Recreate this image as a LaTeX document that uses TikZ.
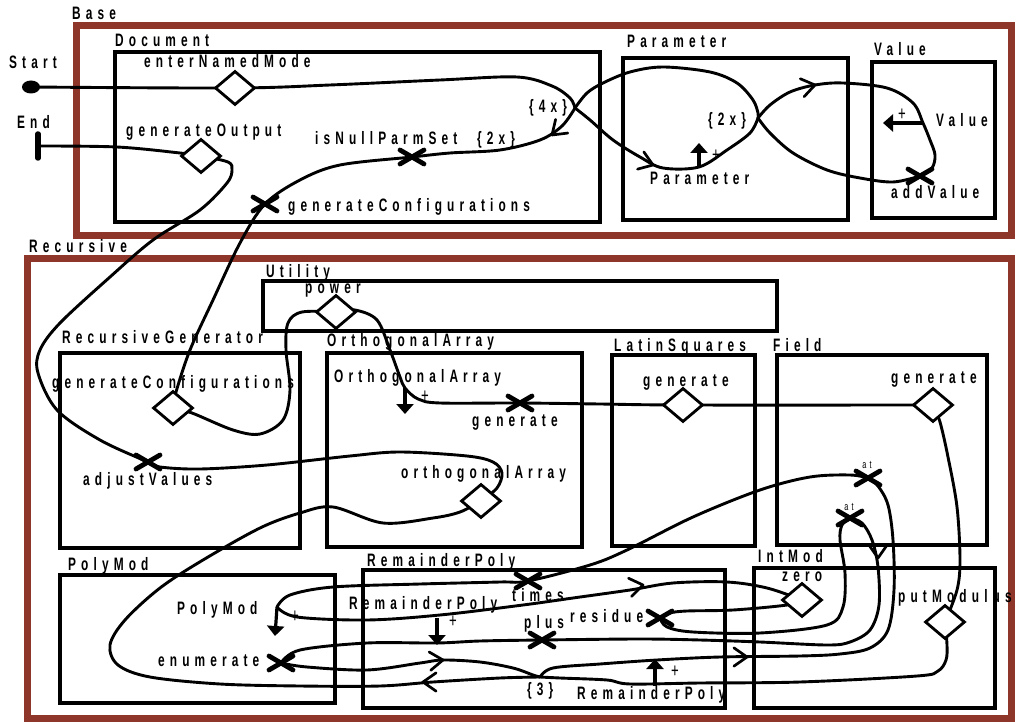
\documentclass[tikz,border=0pt]{standalone}
\usepackage{fontspec}
\setmainfont{Liberation Sans}[FakeStretch=0.66,LetterSpace=28.5]
\usetikzlibrary{arrows.meta,shapes.geometric}
\definecolor{framered}{RGB}{142,54,42}

\tikzset{
  layer/.style={draw=framered, line width=7pt},
  comp/.style={draw, line width=3.4pt},
  lbl/.style={font=\fontsize{18}{20}\selectfont\bfseries, inner sep=0pt, anchor=base west},
  tinylbl/.style={font=\fontsize{11}{12}\selectfont, inner sep=0pt},
  pluslbl/.style={font=\fontsize{20}{20}\selectfont, inner sep=0pt},
  stubd/.style={diamond, draw, fill=white, line width=2.8pt, minimum width=40pt, minimum height=34pt, inner sep=0pt},
  ucm/.style={line width=2.9pt, line cap=round, line join=round},
  respline/.style={line width=4.8pt, line cap=round},
  headline/.style={line width=2.7pt, line cap=round, line join=round},
  mkarrow/.style={line width=3.2pt, -{Triangle[length=10pt,width=17pt]}},
}
\newcommand{\respmark}[1]{\draw[respline] (#1) +(-12,-7) -- +(12,7) (#1) +(-12,7) -- +(12,-7);}
\newcommand{\vhead}[2]{\draw[headline] (#1) ++(#2+145:16pt) -- (#1) -- ++(#2-145:16pt);}

\begin{document}
\begin{tikzpicture}[x=1pt,y=-1pt]
\useasboundingbox (0,0) rectangle (1020,722);
% layers
\draw[layer] (76,26) rectangle (1011,236);
\draw[layer] (27,258) rectangle (1011,718);
\node[lbl] (baseL) at (72,20) {Base};
\node[lbl] (recL) at (29,252) {Recursive};
% components
\draw[comp] (115,52) rectangle (600,222);
\node[lbl] (docL) at (115,47) {Document};
\draw[comp] (623,58) rectangle (848,220);
\node[lbl] (parL) at (627,48) {Parameter};
\draw[comp] (872,62) rectangle (995,218);
\node[lbl] (valL) at (874,56) {Value};
\draw[comp] (263,281) rectangle (777,331);
\node[lbl] (utilL) at (266,277) {Utility};
\draw[comp] (60,353) rectangle (300,548);
\node[lbl] (rgL) at (62,343) {RecursiveGenerator};
\draw[comp] (327,353) rectangle (582,547);
\node[lbl] (oaL) at (327,346) {OrthogonalArray};
\draw[comp] (612,355) rectangle (755,546);
\node[lbl] (lsL) at (614,351) {LatinSquares};
\draw[comp] (777,355) rectangle (987,545);
\node[lbl] (fieldL) at (773,351) {Field};
\draw[comp] (60,575) rectangle (335,703);
\node[lbl] (pmL) at (68,570) {PolyMod};
\draw[comp] (363,570) rectangle (725,708);
\node[lbl] (rpL) at (367,566) {RemainderPoly};
\draw[comp] (754,568) rectangle (995,708);
\node[lbl] (imL) at (758,562) {IntMod};

% points on the paths
\coordinate (start) at (31,87);
\coordinate (endpt) at (38,146);
\coordinate (enter) at (235,88);
\coordinate (genOut) at (201,156);
\coordinate (fork4) at (575,108);
\coordinate (isNull) at (412,157);
\coordinate (genConf) at (265,204);
\coordinate (fork2) at (758,118);
\coordinate (paramNew) at (699,167);
\coordinate (valueNew) at (923,123);
\coordinate (addVal) at (920,176);
\coordinate (rgGen) at (173,408);
\coordinate (power) at (336,312);
\coordinate (oaNew) at (405,388);
\coordinate (oaGen) at (520,403);
\coordinate (oaArr) at (481,501);
\coordinate (adjust) at (148,462);
\coordinate (lsGen) at (683,405);
\coordinate (fieldGen) at (933,405);
\coordinate (atA) at (868,478);
\coordinate (atB) at (850,518);
\coordinate (pmNew) at (277,607);
\coordinate (enumX) at (281,663);
\coordinate (rpNewA) at (437,618);
\coordinate (rpNewB) at (655,686);
\coordinate (timesX) at (528,581);
\coordinate (plusX) at (542,640);
\coordinate (residueX) at (660,618);
\coordinate (fork3) at (540,677);
\coordinate (zero) at (802,600);
\coordinate (putMod) at (945,622);

% paths
\draw[ucm] plot[smooth,tension=0.55] coordinates {(start) (enter) (330,85) (440,80) (517,77) (552,86) (570,98) (fork4)};
\draw[ucm] plot[smooth,tension=0.55] coordinates {(genOut) (180,153) (117,147) (endpt)};
\draw[ucm] plot[smooth,tension=0.55] coordinates {(fork4) (562,126) (540,140) (500,150) (450,153) (isNull) (340,165) (300,180) (genConf) (240,243) (213,300) (190,350) (176,392) (rgGen)};
\draw[ucm] plot[smooth,tension=0.55] coordinates {(fork4) (587,93) (603,83) (630,72) (663,67) (710,72) (737,83) (753,100) (758,113) (fork2)};
\draw[ucm] plot[smooth,tension=0.55] coordinates {(fork4) (590,120) (613,140) (640,157) (663,168) (paramNew) (727,150) (750,133) (fork2)};
\draw[ucm] plot[smooth,tension=0.55] coordinates {(fork2) (770,105) (790,92) (815,85) (843,83) (887,88) (913,103) (valueNew) (930,140) (935,155) (932,168) (addVal)};
\draw[ucm] plot[smooth,tension=0.55] coordinates {(fork2) (770,133) (793,153) (827,170) (860,178) (893,182) (addVal)};
\draw[ucm] plot[smooth,tension=0.55] coordinates {(rgGen) (192,413) (233,430) (260,434) (283,420) (290,390) (286,350) (288,323) (302,312) (power)};
\draw[ucm] plot[smooth,tension=0.55] coordinates {(power) (355,310) (377,320) (390,350) (400,377) (oaNew) (418,399) (440,403) (oaGen) (600,404) (lsGen) (fieldGen)};
\draw[ucm] plot[smooth,tension=0.55] coordinates {(fieldGen) (940,422) (948,457) (957,507) (960,560) (957,590) (putMod)};
\draw[ucm] plot[smooth,tension=0.55] coordinates {(putMod) (947,645) (946,660) (938,671) (917,676) (800,682) (700,683) (630,684) (607,680) (560,678) (fork3)};
\draw[ucm] plot[smooth,tension=0.55] coordinates {(fork3) (553,668) (600,664) (657,660) (720,657) (800,656) (840,654) (870,648) (888,630) (894,590) (893,540) (888,505) (878,486) (atA)};
\draw[ucm] plot[smooth,tension=0.55] coordinates {(pmNew) (290,595) (333,587) (420,584) (500,582) (timesX) (590,565) (627,550) (693,517) (760,490) (810,477) (850,475) (atA)};
\draw[ucm] plot[smooth,tension=0.55] coordinates {(pmNew) (297,617) (367,620) (440,615) (523,605) (573,598) (630,590) (673,583) (727,582) (767,588) (zero)};
\draw[ucm] plot[smooth,tension=0.55] coordinates {(zero) (787,605) (733,610) (687,611) (670,613) (residueX)};
\draw[ucm] plot[smooth,tension=0.55] coordinates {(residueX) (667,627) (693,632) (760,633) (827,625) (843,607) (845,573) (840,540) (842,525) (atB)};
\draw[ucm] plot[smooth,tension=0.55] coordinates {(atB) (862,523) (872,540) (878,567) (879,605) (870,630) (850,642) (827,645) (760,642) (700,640) (640,639) (plusX) (480,641) (437,643) (367,643) (300,650) (enumX)};
\draw[ucm] plot[smooth,tension=0.55] coordinates {(enumX) (307,667) (367,670) (420,663) (443,660) (480,662) (513,668) (533,675) (fork3)};
\draw[ucm] plot[smooth,tension=0.55] coordinates {(fork3) (500,678) (433,682) (380,686) (300,686) (220,684) (150,677) (118,665) (110,645) (125,620) (160,588) (203,560) (260,528) (300,513) (333,507) (383,523) (433,518) (460,512) (oaArr)};
\draw[ucm] plot[smooth,tension=0.55] coordinates {(oaArr) (497,488) (502,473) (493,462) (467,456) (400,452) (350,456) (267,465) (200,469) (160,467) (adjust) (100,440) (57,410) (38,373) (40,350) (60,323) (110,277) (153,240) (200,210) (227,183) (232,170) (228,162) (genOut)};

% start and end
\fill (start) ellipse (9 and 6.5);
\draw[line width=5.5pt, line cap=round] (38,134) -- (38,158);
\node[lbl] (startL) at (9,69) {Start};
\node[lbl] (endL) at (17,129) {End};

% stubs
\node[stubd] (enterD) at (enter) {};
\node[stubd] (genOutD) at (genOut) {};
\node[stubd] (rgGenD) at (rgGen) {};
\node[stubd] (powerD) at (power) {};
\node[stubd] (oaArrD) at (oaArr) {};
\node[stubd] (lsGenD) at (lsGen) {};
\node[stubd] (fieldGenD) at (fieldGen) {};
\node[stubd] (zeroD) at (zero) {};
\node[stubd] (putModD) at (putMod) {};

% responsibilities
\respmark{isNull}
\respmark{genConf}
\respmark{addVal}
\respmark{oaGen}
\respmark{adjust}
\respmark{atA}
\respmark{atB}
\respmark{timesX}
\respmark{plusX}
\respmark{residueX}
\respmark{enumX}

% direction heads
\vhead{552,135}{-138}
\vhead{653,165}{-20}
\vhead{815,85}{12}
\vhead{643,585}{10}
\vhead{443,660}{5}
\vhead{423,682}{180}
\vhead{747,657}{0}
\vhead{878,558}{-90}

% create arrows
\draw[mkarrow] (paramNew) -- (699,143);
\draw[mkarrow] (valueNew) -- (883,123);
\draw[mkarrow] (oaNew) -- (405,414);
\draw[mkarrow] (pmNew) -- (275,636);
\draw[mkarrow] (rpNewA) -- (437,645);
\draw[mkarrow] (rpNewB) -- (655,659);
\node[pluslbl] (p1) at (716,156) {+};
\node[pluslbl] (p2) at (902,115) {+};
\node[pluslbl] (p3) at (425,397) {+};
\node[pluslbl] (p4) at (295,617) {+};
\node[pluslbl] (p5) at (453,622) {+};
\node[pluslbl] (p6) at (675,672) {+};

% labels
\node[lbl] (enterL) at (144,68) {enterNamedMode};
\node[lbl] (genOutL) at (126,137) {generateOutput};
\node[lbl] (isNullL) at (315,145) {isNullParmSet};
\node[lbl] (twoxL) at (477,145) {\{2x\}};
\node[lbl] (fourxL) at (529,113) {\{4x\}};
\node[lbl] (genConfL) at (288,212) {generateConfigurations};
\node[lbl] (parStubL) at (650,185) {Parameter};
\node[lbl] (twoxPL) at (708,126) {\{2x\}};
\node[lbl] (valStubL) at (936,127) {Value};
\node[lbl] (addValL) at (891,199) {addValue};
\node[lbl] (powerL) at (305,293) {power};
\node[lbl] (rgGenL) at (52,388) {generateConfigurations};
\node[lbl] (adjustL) at (83,485) {adjustValues};
\node[lbl] (oaStubL) at (334,382) {OrthogonalArray};
\node[lbl] (oaGenL) at (472,426) {generate};
\node[lbl] (oaArrL) at (401,478) {orthogonalArray};
\node[lbl] (lsGenL) at (643,386) {generate};
\node[lbl] (fieldGenL) at (891,383) {generate};
\node[tinylbl] (atAL) at (867,465) {at};
\node[tinylbl] (atBL) at (849,507) {at};
\node[lbl] (pmStubL) at (177,614) {PolyMod};
\node[lbl] (enumL) at (158,666) {enumerate};
\node[lbl] (rpStubAL) at (349,609) {RemainderPoly};
\node[lbl] (timesL) at (512,601) {times};
\node[lbl] (plusL) at (524,628) {plus};
\node[lbl] (residueL) at (570,622) {residue};
\node[lbl] (threeL) at (527,695) {\{3\}};
\node[lbl] (rpStubBL) at (577,699) {RemainderPoly};
\node[lbl] (zeroL) at (782,581) {zero};
\node[lbl] (putModL) at (898,602) {putModulus};
\end{tikzpicture}
\end{document}
